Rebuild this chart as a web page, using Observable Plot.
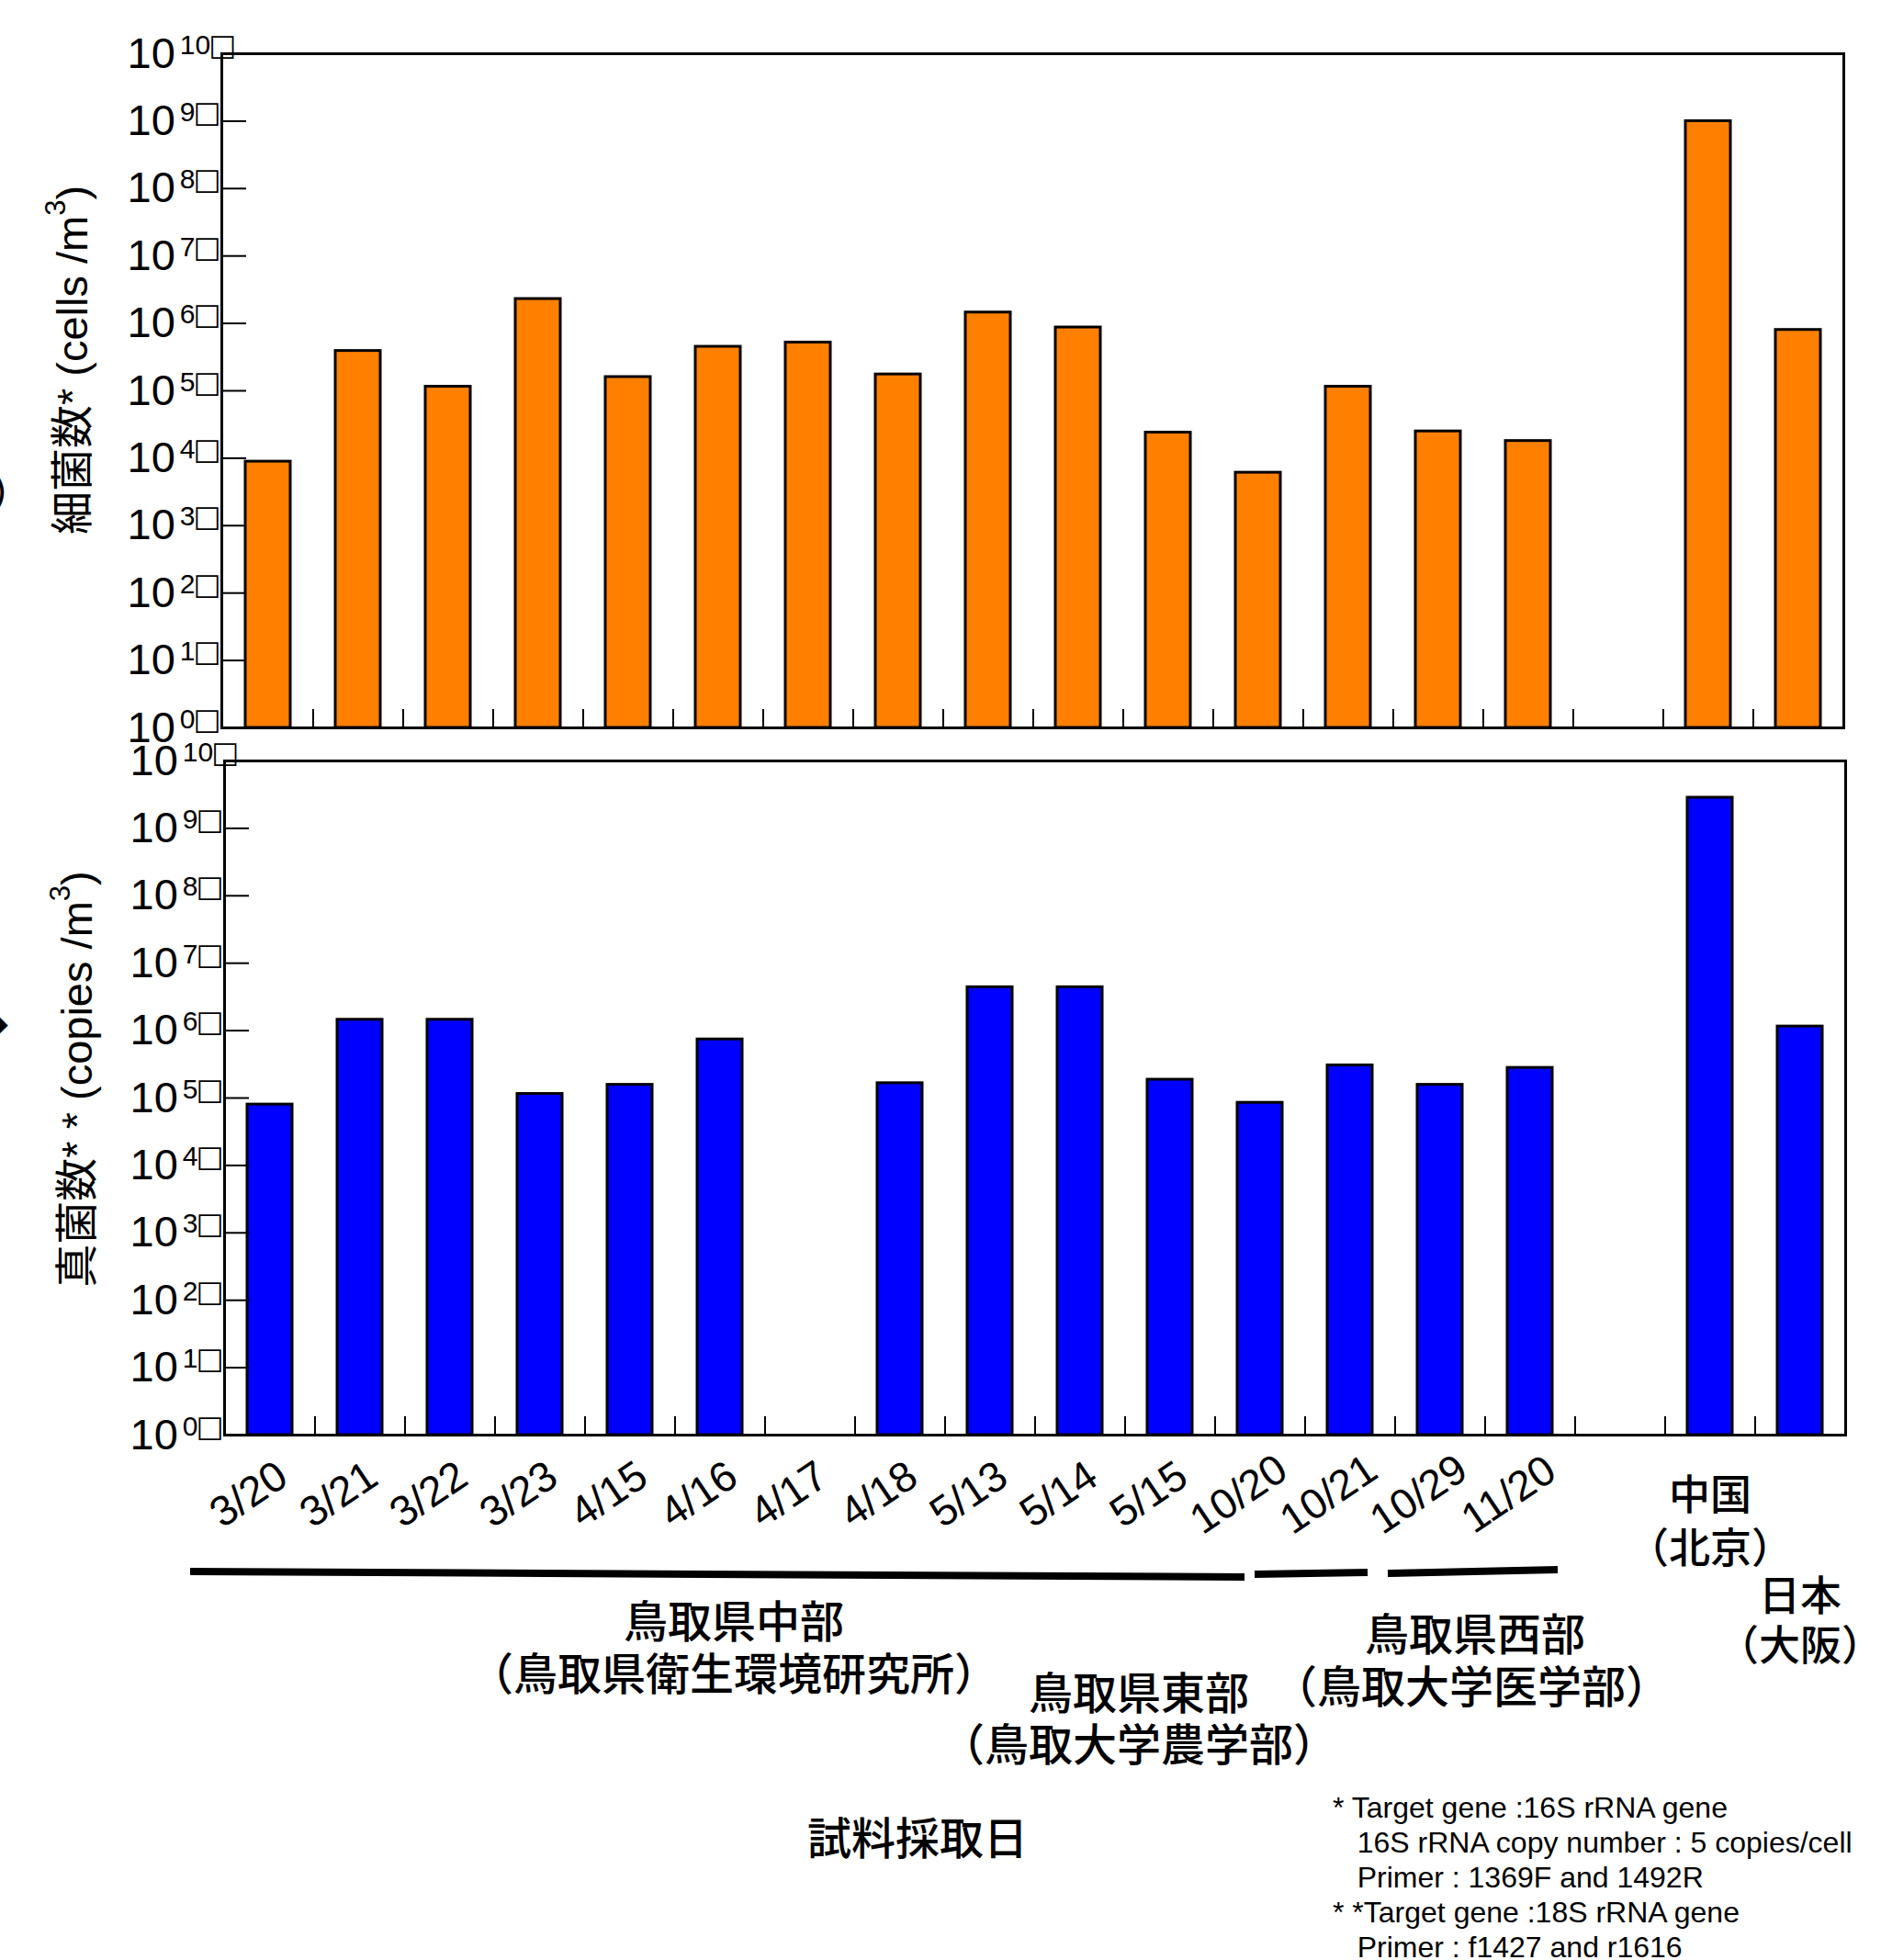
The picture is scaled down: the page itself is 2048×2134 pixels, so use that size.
<!DOCTYPE html>
<html>
<head>
<meta charset="utf-8">
<script src="https://cdn.jsdelivr.net/npm/d3@7"></script>
<script src="https://cdn.jsdelivr.net/npm/@observablehq/plot@0.6"></script>
<style>
  html, body { margin: 0; padding: 0; background: #fff; }
  #wrap { position: relative; width: 2048px; height: 2134px; overflow: hidden; background: #fff; color: #000;
          font-family: "Liberation Sans", Arial, "Noto Sans CJK JP", sans-serif; }
  #wrap svg.chart { position: absolute; left: 0; overflow: visible; }
  .ytitle { position: absolute; white-space: nowrap; font-size: 47px; line-height: 1;
            font-family: "Liberation Sans", Arial, "Noto Sans CJK JP", sans-serif;
            transform: translate(-50%, -50%) rotate(-90deg); }
  .ytitle sup { font-size: 0.66em; line-height: 0; vertical-align: 0.75em; }
  .jp { position: absolute; white-space: nowrap; line-height: 1; font-size: 48px;
        font-family: "Noto Sans CJK JP", sans-serif; font-weight: 500; transform: translate(-50%, -50%); }
  .note { position: absolute; font-size: 32px; line-height: 38px; white-space: pre;
          font-family: "Liberation Sans", Arial, sans-serif; }
  .edge { position: absolute; font-size: 40px; line-height: 1; font-family: "DejaVu Sans", sans-serif; }
</style>
</head>
<body>
<div id="wrap"></div>
<script>
// ---------------- data ----------------
const categories = ["3/20","3/21","3/22","3/23","4/15","4/16","4/17","4/18","5/13","5/14","5/15",
                    "10/20","10/21","10/29","11/20","gap","中国","日本"];
const dateLabels = ["3/20","3/21","3/22","3/23","4/15","4/16","4/17","4/18","5/13","5/14","5/15",
                    "10/20","10/21","10/29","11/20"];
const countryNames = ["中国","日本"];
const countrySites = ["（北京）","（大阪）"];
// 細菌数 (cells/m3)
const bacteria = [8.9e3, 3.9e5, 1.15e5, 2.3e6, 1.6e5, 4.5e5, 5.2e5, 1.75e5, 1.45e6, 8.7e5, 2.4e4,
                  6.1e3, 1.15e5, 2.5e4, 1.8e4, null, 1.0e9, 8.0e5];
// 真菌数 (copies/m3)
const fungi = [8.0e4, 1.45e6, 1.45e6, 1.15e5, 1.57e5, 7.4e5, null, 1.66e5, 4.4e6, 4.4e6, 1.87e5,
               8.5e4, 3.05e5, 1.57e5, 2.8e5, null, 2.85e9, 1.15e6];
const yTicks = [1e0,1e1,1e2,1e3,1e4,1e5,1e6,1e7,1e8,1e9,1e10];
const yTitles = ["細菌数* (cells /m<sup>3</sup>)", "真菌数* * (copies /m<sup>3</sup>)"];
const regionNames = ["鳥取県中部","鳥取県東部","鳥取県西部"];
const regionSites = ["（鳥取県衛生環境研究所）","（鳥取大学農学部）","（鳥取大学医学部）"];
const xTitle = "試料採取日";
const footnote = [
  "* Target gene :16S rRNA gene",
  "   16S rRNA copy number : 5 copies/cell",
  "   Primer : 1369F and 1492R",
  "* *Target gene :18S rRNA gene",
  "   Primer : f1427 and r1616"
];

// ---------------- drawing ----------------
const W = 2048;
const wrap = document.getElementById("wrap");

function panel(values, color, g) {
  const rows = categories.map((c, i) => ({c, v: values[i]})).filter(d => d.v != null);
  const innerW = W - g.ml - g.mr;
  const innerH = g.h - g.mt - g.mb;
  const step = innerW / categories.length;
  const svg = Plot.plot({
    width: W, height: g.h,
    marginLeft: g.ml, marginRight: g.mr, marginTop: g.mt, marginBottom: g.mb,
    style: {fontFamily: "Liberation Sans, Arial, sans-serif", fontSize: "47px", color: "#000",
            background: "none", overflow: "visible"},
    x: {domain: categories, paddingInner: 0.5, paddingOuter: 0.25, axis: null},
    y: {type: "log", domain: [1, 1e10]},
    marks: [
      Plot.barY(rows, {x: "c", y1: 1, y2: "v", fill: color, stroke: "#000", strokeWidth: 3}),
      Plot.tickY(yTicks.slice(1, -1), {y: d => d, stroke: "#000", strokeWidth: 2, insetRight: innerW - 27}),
      Plot.tickX(categories.slice(1), {x: d => d, dx: -step / 2, stroke: "#000", strokeWidth: 2, insetTop: innerH - 20}),
      Plot.axisY({ticks: yTicks, tickSize: 0, tickPadding: 0, textAnchor: "start", dx: -103, label: null,
                  tickFormat: d => String(Math.round(Math.log10(d))), fill: "#000"}),
      Plot.frame({stroke: "#000", strokeWidth: 3}),
      ...(g.extra ? g.extra(step) : [])
    ]
  });
  svg.classList.add("chart");
  svg.style.top = g.top + "px";
  // 10^n superscript labels
  d3.select(svg).selectAll('g[aria-label="y-axis tick label"] text').each(function() {
    const e = this.textContent;
    const t = d3.select(this).text(null);
    t.append("tspan").text("10");
    t.append("tspan").attr("dx", 5).attr("dy", -15).attr("font-size", 30).text(e);
    t.append("tspan").attr("dx", -2).attr("dy", 1).attr("font-size", 32).attr("font-family", "DejaVu Sans").text("□");
  });
  wrap.appendChild(svg);
  return svg;
}

panel(bacteria, "#ff8000", {top: 0, h: 800, ml: 241, mr: 41, mt: 58, mb: 8});

panel(fungi, "#0000ff", {top: 800, h: 1020, ml: 244, mr: 39, mt: 28, mb: 258,
  extra: step => [
    Plot.text(dateLabels, {x: d => d, text: d => d, frameAnchor: "bottom", dy: 77, dx: -15, rotate: -34,
                           fontSize: 46, fontFamily: "Liberation Sans, Arial, sans-serif", fill: "#000"}),
    Plot.text([countryNames[0]], {x: d => d, text: d => d + "\n" + countrySites[0], frameAnchor: "bottom",
                           dy: 139, lineHeight: 1.28, fontSize: 45, fontFamily: "Noto Sans CJK JP", fontWeight: 500, fill: "#000"}),
    Plot.text([countryNames[1]], {x: d => d, text: d => d + "\n" + countrySites[1], frameAnchor: "bottom",
                           dy: 245, lineHeight: 1.2, fontSize: 45, fontFamily: "Noto Sans CJK JP", fontWeight: 500, fill: "#000"})
  ]
});

// axis titles
function addDiv(cls, html, x, y) {
  const d = document.createElement("div");
  d.className = cls;
  d.innerHTML = html;
  d.style.left = x + "px";
  d.style.top = y + "px";
  wrap.appendChild(d);
  return d;
}
addDiv("ytitle", yTitles[0], 78, 392);
addDiv("ytitle", yTitles[1], 83, 1175);

// region brackets
const ns = "http://www.w3.org/2000/svg";
const ov = document.createElementNS(ns, "svg");
ov.setAttribute("width", W); ov.setAttribute("height", 2134);
ov.style.position = "absolute"; ov.style.left = "0"; ov.style.top = "0";
[[207,1711,1355,1717],[1366,1714,1489,1712],[1511,1713,1696,1709]].forEach(([x1,y1,x2,y2]) => {
  const l = document.createElementNS(ns, "line");
  l.setAttribute("x1", x1); l.setAttribute("y1", y1); l.setAttribute("x2", x2); l.setAttribute("y2", y2);
  l.setAttribute("stroke", "#000"); l.setAttribute("stroke-width", 8);
  ov.appendChild(l);
});
wrap.appendChild(ov);

// region labels
addDiv("jp", regionNames[0], 799, 1762);
addDiv("jp", regionSites[0], 799, 1819);
addDiv("jp", regionNames[1], 1240, 1840);
addDiv("jp", regionSites[1], 1240, 1896);
addDiv("jp", regionNames[2], 1606, 1776);
addDiv("jp", regionSites[2], 1602, 1833);
addDiv("jp", xTitle, 999, 1998);

// footnote
const note = addDiv("note", "", 1451, 1949);
note.textContent = footnote.join("\n");

// clipped fragments at the left edge
addDiv("edge", ")", -8, 515);
addDiv("edge", "◆", -22, 1093);
</script>
</body>
</html>
